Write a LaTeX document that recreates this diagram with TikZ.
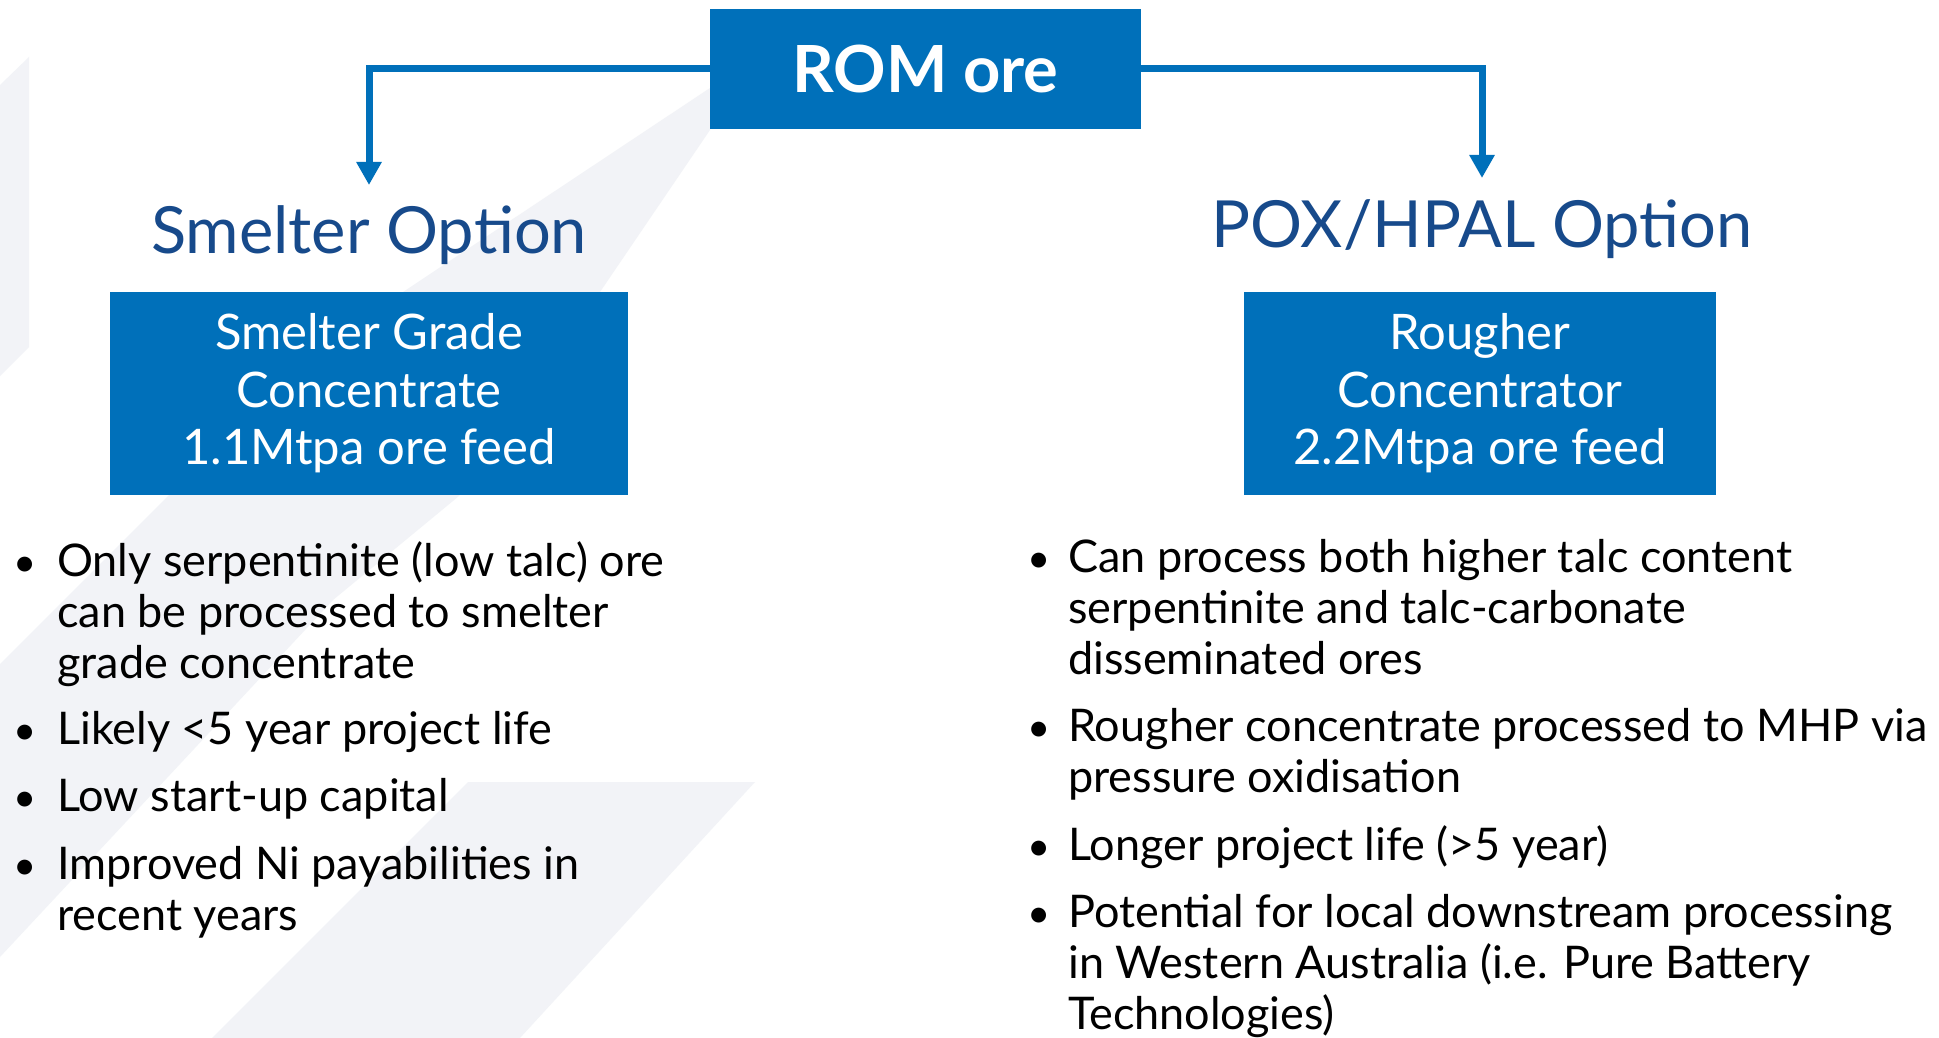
\documentclass[tikz,border=0pt]{standalone}
\usepackage{fontspec}
\setmainfont{Lato}
\usetikzlibrary{arrows.meta}
\definecolor{boxblue}{HTML}{0070BA}
\definecolor{titlenavy}{HTML}{174A8B}
\definecolor{bggray}{HTML}{F2F3F7}
\begin{document}
\begin{tikzpicture}[x=1pt,y=-1pt,
  bluebox/.style={fill=boxblue, draw=none, text=white, inner sep=0pt, align=center},
  boxtext/.style={font=\fontsize{49}{57.5}\selectfont},
  optitle/.style={text=titlenavy, inner sep=0pt, anchor=base, font=\fontsize{65}{70}\selectfont},
  bullettext/.style={anchor=base west, inner sep=0pt, align=left, font=\fontsize{45}{51}\selectfont},
  bulletdot/.style={anchor=base, inner sep=0pt, font=\fontsize{40}{51}\selectfont},
  connector/.style={draw=boxblue, line width=7pt, -{Triangle[width=24pt,length=23pt]}},
  bgshape/.style={fill=bggray, draw=none}]
\useasboundingbox (0,0) rectangle (1939,1038);
\fill[white] (0,0) rectangle (1939,1038);
% background decoration
\fill[bgshape] (0,85) -- (29,57) -- (29,347) -- (0,376) -- cycle;
\fill[bgshape] (710,88) -- (403,292) -- (168,496) -- (0,664) -- (0,957) -- (333,600) -- (459,496) -- (600,292) -- (710,130) -- cycle;
\fill[bgshape] (468,782) -- (755,782) -- (520,1038) -- (212,1038) -- cycle;
% boxes
\node[bluebox, minimum width=431pt, minimum height=120pt] (rom) at (925.5,69) {\fontsize{65}{70}\selectfont\bfseries ROM ore};
\node[optitle] (smtitle) at (369,253) {Smelter Option};
\node[optitle] (poxtitle) at (1482,247) {POX/HPAL Option};
\node[bluebox, boxtext, minimum width=518pt, minimum height=203pt] (smbox) at (369,393.5) {Smelter Grade\\Concentrate\\1.1Mtpa ore feed};
\node[bluebox, boxtext, minimum width=472pt, minimum height=203pt] (rgbox) at (1480,393.5) {Rougher\\Concentrator\\2.2Mtpa ore feed};
% connectors
\coordinate (lt) at (369,185);
\coordinate (rt) at (1482,178);
\draw[connector] (rom.west) -| (lt);
\draw[connector] (rom.east) -| (rt);
% left bullets (text nodes anchored at the baseline of their last line)
\node[bulletdot] (lb1) at (25,576) {•};
\node[bullettext] (lt1) at (57,678) {Only serpentinite (low talc) ore\\can be processed to smelter\\grade concentrate};
\node[bulletdot] (lb2) at (25,744) {•};
\node[bullettext] (lt2) at (57,744) {Likely <5 year project life};
\node[bulletdot] (lb3) at (25,811) {•};
\node[bullettext] (lt3) at (57,811) {Low start-up capital};
\node[bulletdot] (lb4) at (25,879) {•};
\node[bullettext] (lt4) at (57,930) {Improved Ni payabilities in\\recent years};
% right bullets
\node[bulletdot] (rb1) at (1039,572) {•};
\node[bullettext] (rt1) at (1068,674) {Can process both higher talc content\\serpentinite and talc-carbonate\\disseminated ores};
\node[bulletdot] (rb2) at (1039,741) {•};
\node[bullettext] (rt2) at (1068,792) {Rougher concentrate processed to MHP via\\pressure oxidisation};
\node[bulletdot] (rb3) at (1039,860) {•};
\node[bullettext] (rt3) at (1068,860) {Longer project life (>5 year)};
\node[bulletdot] (rb4) at (1039,927) {•};
\node[bullettext] (rt4) at (1068,1029) {Potential for local downstream processing\\in Western Australia (i.e. Pure Battery\\Technologies)};
\end{tikzpicture}
\end{document}
